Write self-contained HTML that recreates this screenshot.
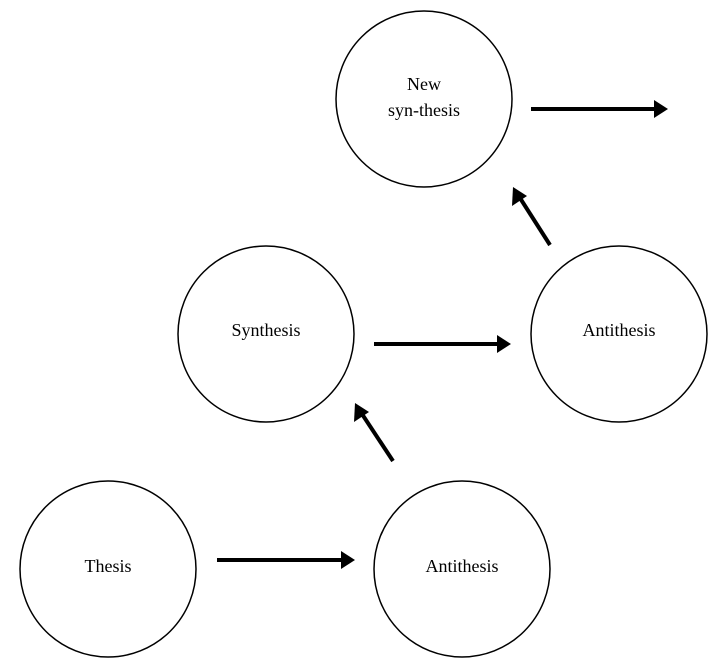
<!DOCTYPE html>
<html><head><meta charset="utf-8"><style>
html,body{margin:0;padding:0;background:#fff;}
svg{display:block}
text{font-family:"Liberation Serif",serif;font-size:18px;fill:#000;}
</style></head><body>
<svg width="717" height="671" viewBox="0 0 717 671" xmlns="http://www.w3.org/2000/svg">
<g fill="none" stroke="#000" stroke-width="1.5">
<circle cx="424" cy="99" r="88"/>
<circle cx="266" cy="334" r="88"/>
<circle cx="619" cy="334" r="88"/>
<circle cx="108" cy="569" r="88"/>
<circle cx="462" cy="569" r="88"/>
</g>
<g stroke="#000" stroke-width="4">
<line x1="531" y1="109" x2="656" y2="109"/>
<line x1="374" y1="344" x2="499" y2="344"/>
<line x1="217" y1="560" x2="342" y2="560"/>
<line x1="550" y1="245" x2="520" y2="198"/>
<line x1="393" y1="461" x2="362" y2="414"/>
</g>
<g fill="#000">
<polygon points="668,109 654,100 654,118"/>
<polygon points="511,344 497,335 497,353"/>
<polygon points="355,560 341,551 341,569"/>
<polygon points="513,187 512,206 527,196"/>
<polygon points="355,403 354,422 369,412"/>
</g>
<text x="424" y="90" text-anchor="middle">New</text>
<text x="424" y="116" text-anchor="middle">syn-thesis</text>
<text x="266" y="336" text-anchor="middle">Synthesis</text>
<text x="619" y="336" text-anchor="middle">Antithesis</text>
<text x="108" y="572" text-anchor="middle">Thesis</text>
<text x="462" y="572" text-anchor="middle">Antithesis</text>
</svg>
</body></html>
